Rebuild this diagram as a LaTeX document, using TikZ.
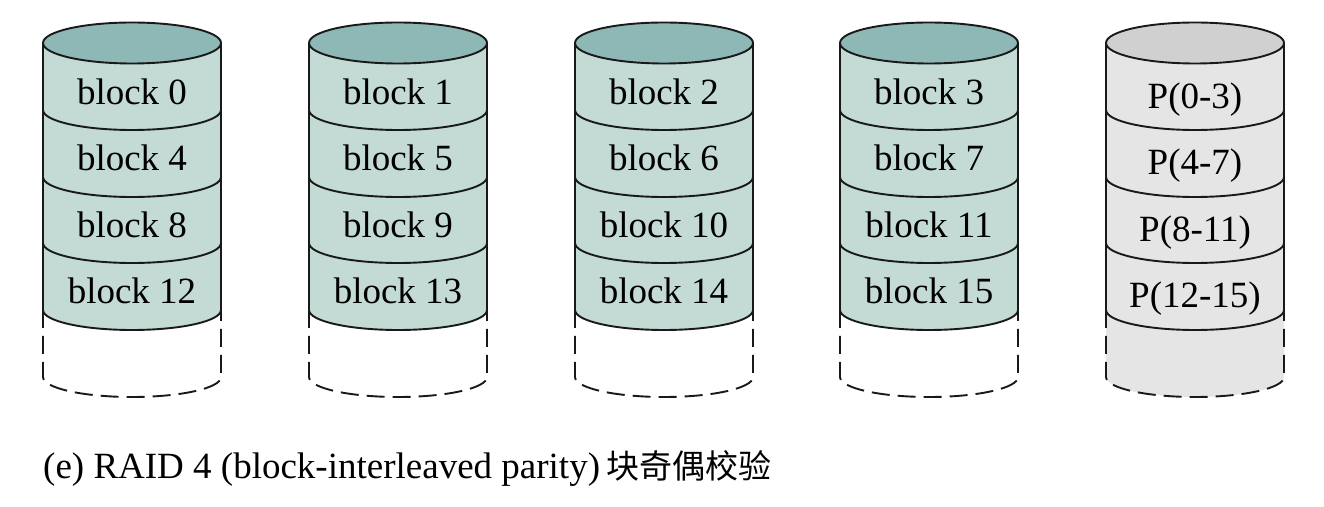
\documentclass[tikz,border=0pt]{standalone}
\usepackage{fontspec}
\setmainfont{Liberation Serif}
\newfontfamily\cjk{Noto Sans CJK SC}
\definecolor{tealtop}{RGB}{141,184,181}
\definecolor{tealbody}{RGB}{195,218,213}
\definecolor{graytop}{RGB}{208,208,208}
\definecolor{graybody}{RGB}{229,229,229}
\tikzset{
  outline/.style={line width=1.9pt, draw=black!90},
  dashline/.style={line width=1.9pt, draw=black!90, dash pattern=on 18pt off 8pt},
  lbl/.style={font=\fontsize{37}{40}\selectfont, anchor=base, inner sep=0pt},
}
\newcommand{\disk}[4]{% cx, topcolor, bodycolor, dashfill
  \fill[#3] (#1-89,463) -- (#1-89,196) arc[start angle=180,end angle=360,x radius=89pt,y radius=20pt] -- (#1+89,463) -- cycle;
  \fill[#4] (#1-89,196) -- (#1-89,129) arc[start angle=180,end angle=360,x radius=89pt,y radius=20pt] -- (#1+89,196) arc[start angle=0,end angle=-180,x radius=89pt,y radius=20pt] -- cycle;
  \draw[outline] (#1-89,463) -- (#1-89,196);
  \draw[outline] (#1+89,463) -- (#1+89,196);
  \foreach \yy in {396,329,263,196}{
    \draw[outline] (#1-89,\yy) arc[start angle=180,end angle=360,x radius=89pt,y radius=20pt];
  }
  \draw[outline, fill=#2] (#1,463) ellipse[x radius=89pt, y radius=20.5pt];
  \draw[dashline] (#1-89,196) -- (#1-89,129) arc[start angle=180,end angle=360,x radius=89pt,y radius=20pt] -- (#1+89,196);
}
\begin{document}
\begin{tikzpicture}[x=1pt,y=1pt]
\useasboundingbox (0,0) rectangle (1324,506);
\disk{132}{tealtop}{tealbody}{white}
\disk{398}{tealtop}{tealbody}{white}
\disk{664}{tealtop}{tealbody}{white}
\disk{929}{tealtop}{tealbody}{white}
\disk{1195}{graytop}{graybody}{graybody}
\foreach \cx/\d in {132/0,398/1,664/2,929/3}{
  \foreach \r/\by in {0/401,1/335,2/268,3/202}{
    \pgfmathtruncatemacro{\n}{\d+4*\r}
    \node[lbl] (b\n) at (\cx,\by) {block \n};
  }
}
\node[lbl] (p0) at (1195,397) {P(0-3)};
\node[lbl] (p1) at (1195,331) {P(4-7)};
\node[lbl] (p2) at (1195,264) {P(8-11)};
\node[lbl] (p3) at (1195,198) {P(12-15)};
\node[anchor=base west, inner sep=0pt, font=\fontsize{37}{40}\selectfont] (cap) at (43,28) {(e) RAID 4 (block-interleaved parity)\,{\cjk\fontsize{33}{40}\selectfont 块奇偶校验}};
\end{tikzpicture}
\end{document}
